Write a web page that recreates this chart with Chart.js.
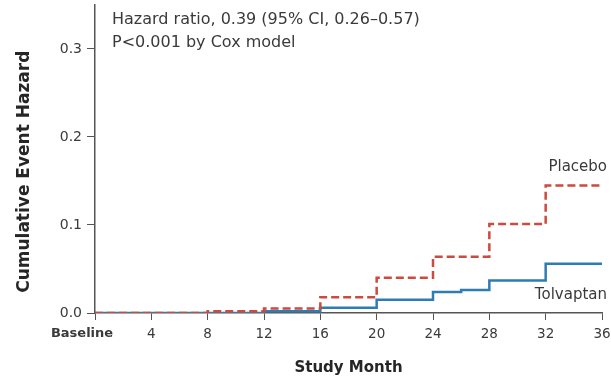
<!DOCTYPE html>
<html>
<head>
<meta charset="utf-8">
<script src="https://cdn.jsdelivr.net/npm/chart.js@4/dist/chart.umd.min.js"></script>
<style>
  html, body { margin: 0; padding: 0; background: #fff; }
  #wrap { width: 611px; height: 381px; }
</style>
</head>
<body>
<div id="wrap"><canvas id="hChart"></canvas></div>
<script>
// step times (months) and cumulative hazard for each arm
const placeboMonths = [0, 8, 12, 16, 20, 24, 28, 32, 36];
const placeboHazard = [0, 0.002, 0.005, 0.018, 0.040, 0.064, 0.101, 0.145, 0.145];
const tolvaptanMonths = [0, 12, 16, 20, 24, 26, 28, 32, 36];
const tolvaptanHazard = [0, 0.002, 0.006, 0.015, 0.024, 0.026, 0.037, 0.056, 0.056];
const xTicks = [0, 4, 8, 12, 16, 20, 24, 28, 32, 36];
const yTicks = [0, 0.1, 0.2, 0.3];
const noteLines = ['Hazard ratio, 0.39 (95% CI, 0.26\u20130.57)', 'P<0.001 by Cox model'];

const FONT = '"DejaVu Sans", sans-serif';
const TEXT = '#3a3a3a';
const DARK = '#262626';
const AXIS = '#555';

const toPoints = (xs, ys) => xs.map((x, i) => ({x: x, y: ys[i]}));

const labelsPlugin = {
  id: 'labels',
  afterDraw(chart) {
    const ctx = chart.ctx;
    const ys = chart.scales.y;
    ctx.save();
    ctx.fillStyle = TEXT;
    ctx.textBaseline = 'middle';
    ctx.textAlign = 'left';
    ctx.font = '16px ' + FONT;
    ctx.fillText(noteLines[0], 112, 20);
    ctx.fillText(noteLines[1], 112, 43);
    ctx.font = '15px ' + FONT;
    ctx.textAlign = 'right';
    ctx.fillText('Placebo', 607, ys.getPixelForValue(0.166));
    ctx.fillText('Tolvaptan', 607, ys.getPixelForValue(0.020));
    ctx.restore();
  }
};

const data = {
  datasets: [{
    label: 'Placebo',
    data: toPoints(placeboMonths, placeboHazard),
    borderColor: '#cc4a3e',
    borderWidth: 2.5,
    borderDash: [8, 4],
    stepped: 'before',
    pointRadius: 0
  }, {
    label: 'Tolvaptan',
    data: toPoints(tolvaptanMonths, tolvaptanHazard),
    borderColor: '#2f7cb0',
    borderWidth: 2.5,
    stepped: 'before',
    pointRadius: 0
  }]
};

const config = {
  type: 'line',
  data: data,
  options: {
    responsive: true,
    maintainAspectRatio: false,
    animation: false,
    layout: { padding: { top: 5, right: 9, left: 14, bottom: 0 } },
    plugins: { legend: { display: false }, tooltip: { enabled: false } },
    scales: {
      x: {
        type: 'linear',
        min: 0,
        max: 36,
        afterBuildTicks: axis => { axis.ticks = xTicks.map(v => ({value: v})); },
        afterFit: axis => {
          axis.height = 68;
          axis.paddingLeft = 0;
          axis.paddingRight = 0;
        },
        grid: { drawOnChartArea: false, drawTicks: true, tickLength: 7, color: AXIS },
        border: { color: AXIS, width: 1.5 },
        ticks: {
          color: TEXT,
          padding: 6,
          maxRotation: 0,
          autoSkip: false,
          font: ctx => (ctx.tick && ctx.tick.value === 0)
            ? { family: FONT, size: 13, weight: 'bold' }
            : { family: FONT, size: 13.5 },
          // trailing em spaces pull "Baseline" left of its tick
          callback: v => v === 0 ? 'Baseline\u2003\u2003' : String(v)
        },
        title: {
          display: true,
          text: 'Study Month',
          color: DARK,
          font: { family: FONT, size: 15, weight: 'bold' },
          padding: { top: 9 }
        }
      },
      y: {
        min: 0,
        max: 0.35,
        afterBuildTicks: axis => { axis.ticks = yTicks.map(v => ({value: v})); },
        afterFit: axis => {
          axis.width = 81;
          axis.paddingTop = 0;
          axis.paddingBottom = 0;
        },
        grid: { drawOnChartArea: false, drawTicks: true, tickLength: 8, color: AXIS },
        border: { color: AXIS, width: 1.5 },
        ticks: {
          color: TEXT,
          padding: 5,
          font: { family: FONT, size: 14 },
          callback: v => v.toFixed(1)
        },
        title: {
          display: true,
          // trailing spaces nudge the rotated title down the axis
          text: 'Cumulative Event Hazard\u2003\u2002',
          color: DARK,
          font: { family: FONT, size: 17, weight: 'bold' },
          padding: 0
        }
      }
    }
  },
  plugins: [labelsPlugin]
};

new Chart(document.getElementById('hChart'), config);
</script>
</body>
</html>
